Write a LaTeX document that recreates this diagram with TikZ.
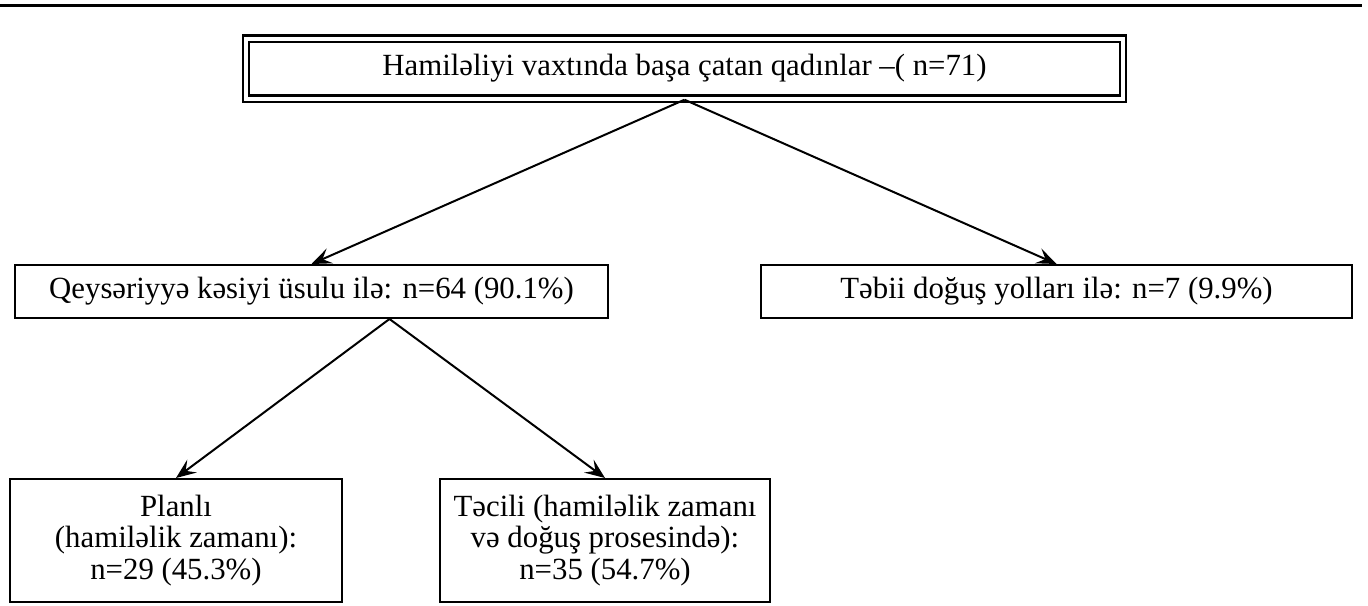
\documentclass[tikz,border=0pt]{standalone}
\usepackage{fontspec}
\setmainfont{Liberation Serif}
\usetikzlibrary{arrows.meta,positioning}
\tikzstyle{box}=[draw, line width=1pt, fill=white, align=center, inner sep=0pt]
\tikzstyle{dbox}=[box, double, double distance=2pt, line width=1.2pt]

\begin{document}
\begin{tikzpicture}[>={Stealth[length=10pt,width=8pt,inset=4pt]},line width=1pt,font=\fontsize{15.4pt}{15.8pt}\selectfont]
        \useasboundingbox (0pt,0pt) rectangle (684pt,-302.5pt);
        \coordinate (rl) at (0pt,-2.5pt);
        \coordinate (rr) at (681pt,-2.5pt);
        \draw [line width=1.5pt] (rl) -- (rr);
        \node [dbox,minimum width=438.5pt,minimum height=30pt] (top) at (342.25pt,-34.25pt) {Hamiləliyi vaxtında başa çatan qadınlar –( n=71)};
        \node [box,minimum width=296.5pt,minimum height=26.5pt] (cs) at (155.75pt,-145.75pt) {Qeysəriyyə kəsiyi üsulu ilə: n=64 (90.1\%)};
        \node [box,minimum width=295.5pt,minimum height=26.5pt] (nat) at (528.25pt,-145.75pt) {Təbii doğuş yolları ilə: n=7 (9.9\%)};
        \node [box,minimum width=166pt,minimum height=61.5pt] (plan) at (88pt,-270.25pt) {Planlı\\(hamiləlik zamanı):\\n=29 (45.3\%)};
        \node [box,minimum width=165pt,minimum height=61.5pt] (urg) at (302.5pt,-270.25pt) {Təcili (hamiləlik zamanı\\və doğuş prosesində):\\n=35 (54.7\%)};
        \coordinate (split) at ([xshift=39pt]cs.south);
        \path[->]
        (top.south) edge (cs.north)
        (top.south) edge (nat.north)
        (split) edge (plan.north)
        (split) edge (urg.north);
    \end{tikzpicture}
\end{document}
